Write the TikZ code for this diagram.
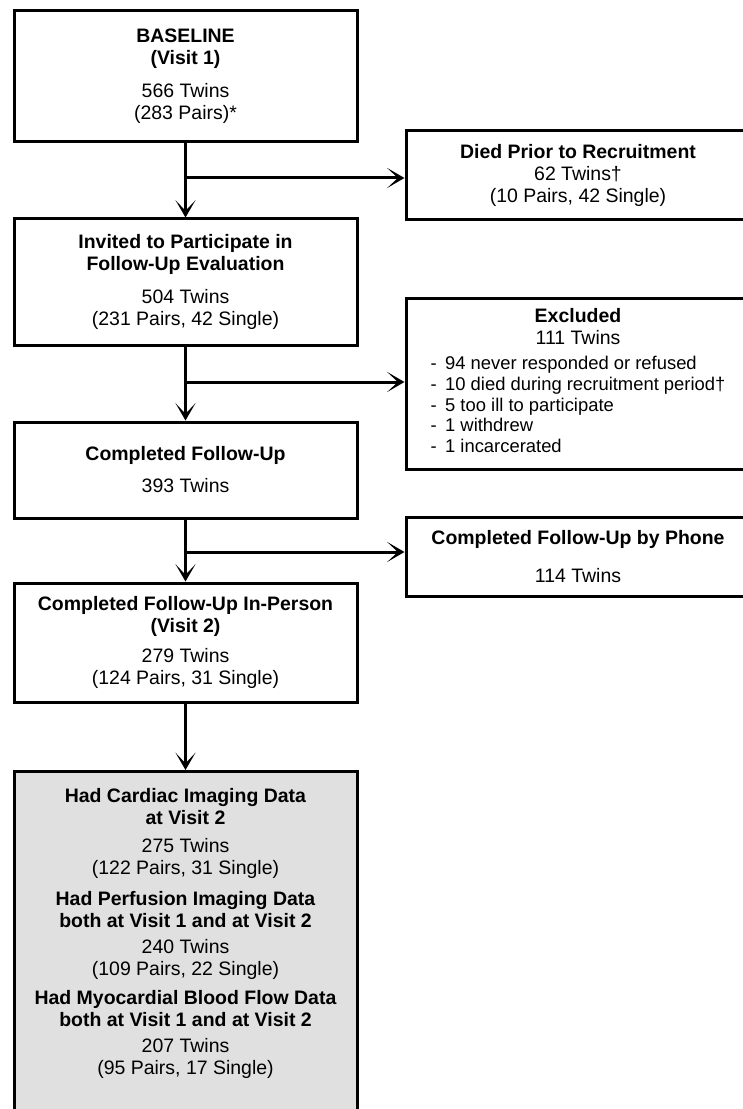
\documentclass[tikz,border=0pt]{standalone}
\usepackage{fontspec}
\setmainfont{Liberation Sans}
\usetikzlibrary{arrows.meta, positioning}
\definecolor{shadegray}{RGB}{224,224,224}

\begin{document}
\begin{tikzpicture}[x=0.75pt,y=-0.75pt]
        \useasboundingbox (0,0) rectangle (742,1109);
        \begin{scope}[every node/.style={draw=black,line width=2.25pt,align=center,inner sep=0pt,
            font=\fontsize{14.6}{16.5}\selectfont}]
          \node[minimum width=257.25pt,minimum height=98.25pt] (base) at (185.5,76)
            {\textbf{BASELINE}\\\textbf{(Visit 1)}\\[8pt]566 Twins\\(283 Pairs)*};
          \node[minimum width=258pt,minimum height=66.75pt] (died) at (578,175.5)
            {\textbf{Died Prior to Recruitment}\\62 Twins†\\(10 Pairs, 42 Single)};
          \node[minimum width=257.25pt,minimum height=94.5pt] (invited) at (185.5,282)
            {\textbf{Invited to Participate in}\\\textbf{Follow-Up Evaluation}\\[8pt]504 Twins\\(231 Pairs, 42 Single)};
          \node[minimum width=258pt,minimum height=128.25pt] (excluded) at (578,383.5)
            {\textbf{Excluded}\\111 Twins\\[2.5pt]
             {\fontsize{13.8}{15.6}\selectfont
             \begin{tabular}[t]{@{}l@{\hspace{6.3pt}}l@{}}
               - & 94 never responded or refused\\
               - & 10 died during recruitment period†\\
               - & 5 too ill to participate\\
               - & 1 withdrew\\
               - & 1 incarcerated
             \end{tabular}}};
          \node[minimum width=257.25pt,minimum height=72pt] (completed) at (185.5,470)
            {\textbf{Completed Follow-Up}\\[7.5pt]393 Twins};
          \node[minimum width=258pt,minimum height=59.25pt] (phone) at (578,556.5)
            {\textbf{Completed Follow-Up by Phone}\\[12pt]114 Twins};
          \node[minimum width=257.25pt,minimum height=89.25pt] (inperson) at (185.5,642.5)
            {\textbf{Completed Follow-Up In-Person}\\\textbf{(Visit 2)}\\[6pt]279 Twins\\(124 Pairs, 31 Single)};
          \node[minimum width=257.25pt,fill=shadegray,anchor=north,inner ysep=12.5pt,text depth=35pt] (imaging) at (185.5,770)
            {\textbf{Had Cardiac Imaging Data}\\\textbf{at Visit 2}\\[5pt]275 Twins\\(122 Pairs, 31 Single)\\[6.5pt]
             \textbf{Had Perfusion Imaging Data}\\\textbf{both at Visit 1 and at Visit 2}\\[3pt]240 Twins\\(109 Pairs, 22 Single)\\[5.5pt]
             \textbf{Had Myocardial Blood Flow Data}\\\textbf{both at Visit 1 and at Visit 2}\\[2.5pt]207 Twins\\(95 Pairs, 17 Single)};
        \end{scope}
        \coordinate (split1) at (185.5,178);
        \coordinate (split2) at (185.5,382);
        \coordinate (split3) at (185.5,552);
        \begin{scope}[every edge/.style={draw=black,line width=2.25pt,-{Stealth[length=13pt,width=15pt,inset=8pt]}}]
          \path (base) edge (invited);
          \path (split1) edge (split1 -| died.west);
          \path (invited) edge (completed);
          \path (split2) edge (split2 -| excluded.west);
          \path (completed) edge (inperson);
          \path (split3) edge (split3 -| phone.west);
          \path (inperson) edge (imaging);
        \end{scope}
      \end{tikzpicture}
\end{document}
